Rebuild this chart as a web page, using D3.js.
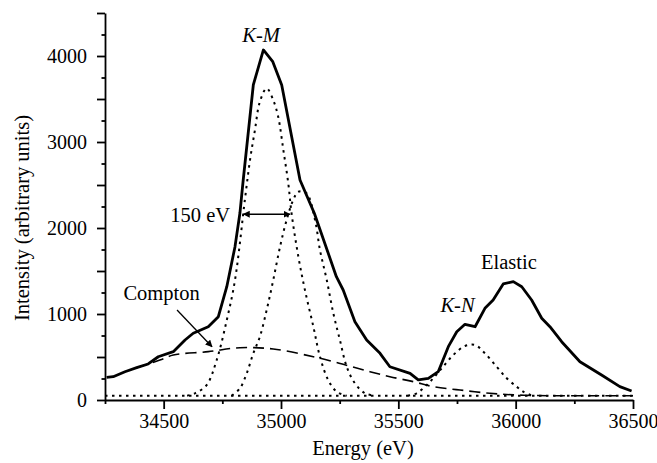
<!DOCTYPE html>
<html>
<head>
<meta charset="utf-8">
<script src="https://cdn.jsdelivr.net/npm/d3@7"></script>
<style>
    body { margin: 0; background: #fff; }
    svg text { font-family: 'Liberation Serif', 'DejaVu Serif', serif; fill: #000; }
</style>
</head>
<body>
<svg id="board" width="657" height="463"></svg>
<script>
// Measured spectrum (solid line): energy in eV, intensity in arbitrary units
let totalEnergy = [34257, 34285, 34335, 34385, 34434, 34477, 34541, 34591, 34626, 34690, 34733, 34769,
    34804, 34825, 34839, 34882, 34925, 34965, 35003, 35081, 35142, 35236, 35265, 35315, 35365, 35422,
    35464, 35550, 35585, 35628, 35670, 35713, 35749, 35784, 35827, 35869, 35904, 35947, 35990, 36026,
    36068, 36111, 36146, 36196, 36274, 36366, 36444, 36494]
let totalIntensity = [264, 271, 329, 376, 419, 503, 562, 698, 776, 852, 969, 1317,
    1783, 2174, 2558, 3663, 4070, 3934, 3663, 2558, 2172, 1434, 1279, 910, 698, 543,
    387, 310, 233, 252, 329, 620, 794, 880, 852, 1066, 1163, 1349, 1376, 1317,
    1163, 950, 852, 678, 445, 291, 155, 105]

// Fitted K-M component 1 (dotted)
let km1Energy = [34600, 34633, 34683, 34726, 34769, 34804, 34847, 34868, 34889, 34910, 34939, 34967,
    34988, 35010, 35031, 35045, 35074, 35102, 35138, 35166, 35201, 35237, 35280]
let km1Intensity = [50, 78, 174, 465, 930, 1395, 2349, 2791, 3140, 3469, 3624, 3488,
    3294, 2907, 2520, 2171, 1666, 1279, 852, 504, 233, 97, 50]

// Fitted K-M component 2 (dotted)
let km2Energy = [34790, 34825, 34854, 34882, 34910, 34939, 34967, 34996, 35024, 35052, 35074, 35109,
    35145, 35166, 35195, 35223, 35251, 35280, 35315, 35358, 35400]
let km2Intensity = [50, 136, 310, 543, 736, 1047, 1395, 1783, 2093, 2326, 2422, 2403,
    2093, 1744, 1395, 1008, 698, 387, 194, 78, 50]

// Fitted K-N component (dotted)
let knEnergy = [35540, 35578, 35635, 35685, 35734, 35784, 35827, 35869, 35919, 35962, 36004, 36032, 36070]
let knIntensity = [50, 78, 213, 369, 523, 628, 640, 543, 387, 252, 155, 97, 50]

// Compton background (dashed)
let comptonEnergy = [34385, 34484, 34541, 34690, 34825, 34967, 35138, 35265, 35379, 35464, 35564,
    35649, 35763, 35890, 36004, 36146, 36500]
let comptonIntensity = [376, 465, 523, 562, 608, 593, 503, 415, 329, 271, 213,
    155, 116, 78, 58, 50, 50]

// Flat baseline (dotted)
let baselineEnergy = [34250, 36500]
let baselineIntensity = [50, 50]

// Axis ticks and labels
let xMajorTicks = [34500, 35000, 35500, 36000, 36500]
let xMinorTicks = [34250, 34750, 35250, 35750, 36250]
let yMajorTicks = [0, 500, 1000, 1500, 2000, 2500, 3000, 3500, 4000, 4500]
let yMinorTicks = [250, 750, 1250, 1750, 2250, 2750, 3250, 3750, 4250]
let yLabelTicks = [0, 1000, 2000, 3000, 4000]

let fontFamily = "'Liberation Serif', 'DejaVu Serif', serif"

let board = d3.select('#board')

let xScale = d3.scaleLinear().domain([34250, 36500]).range([105, 633])
let yScale = d3.scaleLinear().domain([0, 4500]).range([400, 13])

// arrow head marker
let defs = board.append('defs')
defs.append('marker')
    .attr('id', 'head')
    .attr('viewBox', '0 0 10 10')
    .attr('refX', 9)
    .attr('refY', 5)
    .attr('markerWidth', 7)
    .attr('markerHeight', 7)
    .attr('markerUnits', 'userSpaceOnUse')
    .attr('orient', 'auto-start-reverse')
    .append('path')
    .attr('d', 'M0,0 L10,5 L0,10 Z')
    .attr('fill', '#000')

// Draw one curve from its energy / intensity arrays
let drawCurve = (energy, intensity, width, dash, curve) => {
    let points = energy.map((e, i) => [e, intensity[i]])
    let line = d3.line()
        .x((p) => xScale(p[0]))
        .y((p) => yScale(p[1]))
        .curve(curve)
    board.append('path')
        .datum(points)
        .attr('d', line)
        .attr('fill', 'none')
        .attr('stroke', '#000')
        .attr('stroke-width', width)
        .attr('stroke-dasharray', dash)
        .attr('stroke-linejoin', 'round')
}

drawCurve(baselineEnergy, baselineIntensity, 2, '2.5,4.5', d3.curveLinear)
drawCurve(km1Energy, km1Intensity, 2, '2.5,4.5', d3.curveCatmullRom)
drawCurve(km2Energy, km2Intensity, 2, '2.5,4.5', d3.curveCatmullRom)
drawCurve(knEnergy, knIntensity, 2, '2.5,4.5', d3.curveCatmullRom)
drawCurve(comptonEnergy, comptonIntensity, 1.6, '11,6', d3.curveCatmullRom)
drawCurve(totalEnergy, totalIntensity, 2.8, null, d3.curveLinear)

// Axes
let styleAxis = (g) => {
    g.attr('font-family', fontFamily).attr('font-size', 20)
    g.selectAll('path, line').attr('stroke', '#000').attr('stroke-width', 1.8)
    g.selectAll('text').attr('fill', '#000')
}

board.append('g')
    .attr('transform', 'translate(0, 400)')
    .call(d3.axisBottom(xScale).tickValues(xMajorTicks).tickSize(9).tickSizeOuter(0)
        .tickPadding(5).tickFormat(d3.format('d')))
    .call(styleAxis)

board.append('g')
    .attr('transform', 'translate(0, 400)')
    .call(d3.axisBottom(xScale).tickValues(xMinorTicks).tickSize(4).tickFormat(''))
    .call((g) => g.select('.domain').remove())
    .call(styleAxis)

board.append('g')
    .attr('transform', 'translate(105, 0)')
    .call(d3.axisLeft(yScale).tickValues(yMajorTicks).tickSize(8).tickSizeOuter(0)
        .tickPadding(10).tickFormat((d) => yLabelTicks.includes(d) ? d : ''))
    .call(styleAxis)

board.append('g')
    .attr('transform', 'translate(105, 0)')
    .call(d3.axisLeft(yScale).tickValues(yMinorTicks).tickSize(3.5).tickFormat(''))
    .call((g) => g.select('.domain').remove())
    .call(styleAxis)

// Axis titles
board.append('text')
    .attr('x', 363)
    .attr('y', 455)
    .attr('text-anchor', 'middle')
    .attr('font-family', fontFamily)
    .attr('font-size', 20.5)
    .text('Energy (eV)')

board.append('text')
    .attr('transform', 'translate(29, 218) rotate(-90)')
    .attr('text-anchor', 'middle')
    .attr('font-family', fontFamily)
    .attr('font-size', 20.5)
    .text('Intensity (arbitrary units)')

// Annotations
let label = (text, e, i, anchor, italic) => {
    board.append('text')
        .attr('x', xScale(e))
        .attr('y', yScale(i))
        .attr('text-anchor', anchor)
        .attr('font-family', fontFamily)
        .attr('font-size', 20.5)
        .attr('font-style', italic ? 'italic' : 'normal')
        .text(text)
}

label('K-M', 34915, 4166, 'middle', true)
label('150 eV', 34783, 2073, 'end', false)
label('Compton', 34491, 1163, 'middle', false)
label('Elastic', 35971, 1520, 'middle', false)
label('K-N', 35752, 1027, 'middle', true)

let arrow = (e1, i1, e2, i2, both) => {
    board.append('line')
        .attr('x1', xScale(e1))
        .attr('y1', yScale(i1))
        .attr('x2', xScale(e2))
        .attr('y2', yScale(i2))
        .attr('stroke', '#000')
        .attr('stroke-width', 1.3)
        .attr('marker-end', 'url(#head)')
        .attr('marker-start', both ? 'url(#head)' : null)
}

// peak separation arrow and Compton pointer
arrow(34840, 2160, 35038, 2160, true)
arrow(34557, 1047, 34706, 620, false)
</script>
</body>
</html>
